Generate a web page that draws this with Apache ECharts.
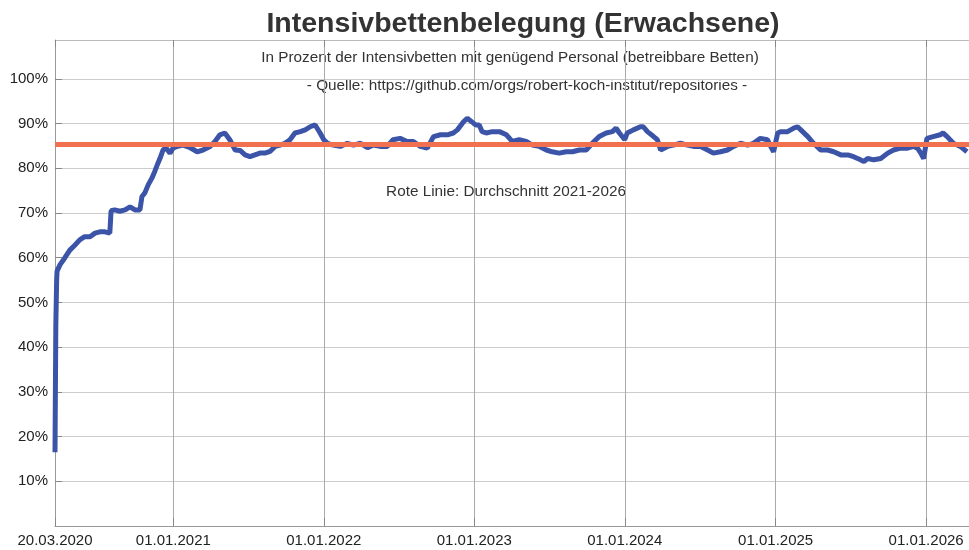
<!DOCTYPE html>
<html>
<head>
<meta charset="utf-8">
<title>Intensivbettenbelegung (Erwachsene)</title>
<script src="https://cdn.jsdelivr.net/npm/echarts@6/dist/echarts.min.js"></script>
<style>
  html, body { margin: 0; padding: 0; background: #fff; }
  #chart { width: 969px; height: 550px; }
</style>
</head>
<body>
<div id="chart"></div>
<script>
// Datum der Messpunkte
const dates = [
  '2020-03-20', '2020-03-22', '2020-03-24', '2020-03-25', '2020-04-01', '2020-04-13', '2020-04-25',
  '2020-05-07', '2020-05-19', '2020-05-31', '2020-06-13', '2020-06-25', '2020-07-07', '2020-07-19',
  '2020-07-31', '2020-08-03', '2020-08-12', '2020-08-24', '2020-09-06', '2020-09-18', '2020-09-30',
  '2020-10-12', '2020-10-17', '2020-10-24', '2020-11-01', '2020-11-10', '2020-11-17', '2020-11-25',
  '2020-11-30', '2020-12-07', '2020-12-14', '2020-12-24',
  '2021-01-01', '2021-01-11', '2021-01-25', '2021-02-11', '2021-02-28', '2021-03-14', '2021-03-31',
  '2021-04-12', '2021-04-24', '2021-05-06', '2021-05-18', '2021-05-31', '2021-06-12', '2021-06-24',
  '2021-07-06', '2021-07-18', '2021-07-30', '2021-08-11', '2021-08-24', '2021-09-05', '2021-09-17',
  '2021-09-29', '2021-10-11', '2021-10-23', '2021-11-05', '2021-11-17', '2021-11-29', '2021-12-11',
  '2021-12-23',
  '2022-01-01', '2022-01-10', '2022-01-24', '2022-02-10', '2022-02-27', '2022-03-14', '2022-03-31',
  '2022-04-17', '2022-05-01', '2022-05-18', '2022-06-04', '2022-06-18', '2022-07-05', '2022-07-22',
  '2022-08-06', '2022-08-23', '2022-09-09', '2022-09-24', '2022-10-11', '2022-10-28', '2022-11-11',
  '2022-11-21', '2022-12-06', '2022-12-15', '2022-12-30',
  '2023-01-05', '2023-01-13', '2023-01-20', '2023-01-30', '2023-02-14', '2023-03-03', '2023-03-20',
  '2023-04-03', '2023-04-20', '2023-05-07', '2023-05-22', '2023-06-08', '2023-06-25', '2023-07-09',
  '2023-07-26', '2023-08-12', '2023-08-27', '2023-09-13', '2023-09-30', '2023-10-14', '2023-10-31',
  '2023-11-17', '2023-12-02', '2023-12-11', '2023-12-19',
  '2024-01-01', '2024-01-07', '2024-01-22', '2024-02-08', '2024-02-15', '2024-02-25', '2024-03-11',
  '2024-03-20', '2024-03-28', '2024-04-14', '2024-04-28', '2024-05-15', '2024-06-01', '2024-06-16',
  '2024-07-03', '2024-07-20', '2024-08-03', '2024-08-20', '2024-09-06', '2024-09-21', '2024-10-08',
  '2024-10-25', '2024-11-08', '2024-11-25', '2024-12-12', '2024-12-20', '2024-12-27',
  '2025-01-06', '2025-01-13', '2025-01-30', '2025-02-14', '2025-02-23', '2025-03-03', '2025-03-20',
  '2025-04-03', '2025-04-20', '2025-05-07', '2025-05-22', '2025-06-08', '2025-06-25', '2025-07-09',
  '2025-07-26', '2025-08-03', '2025-08-12', '2025-08-27', '2025-09-13', '2025-09-30', '2025-10-14',
  '2025-10-31', '2025-11-17', '2025-12-02', '2025-12-11', '2025-12-19', '2025-12-26',
  '2026-01-03', '2026-01-18', '2026-02-04', '2026-02-11', '2026-02-21', '2026-03-08', '2026-03-25',
  '2026-04-10'
]
// Belegung in Prozent
const occupancy = [
  16.5, 45, 55, 57, 58.4, 60, 61.7,
  62.8, 64, 64.7, 64.7, 65.5, 65.8, 65.8,
  65.5, 70.5, 70.7, 70.4, 70.7, 71.4, 70.7,
  70.7, 73.7, 74.5, 76.3, 77.8, 79.3, 81.2,
  82.3, 84.1, 84.6, 83.4,
  84.6, 84.9, 85.2, 84.6, 83.7, 84.1, 84.9,
  86, 87.5, 87.9, 86.4, 84.1, 84, 83,
  82.6, 83, 83.4, 83.4, 83.8, 84.9, 85.2,
  85.6, 86.4, 87.9, 88.2, 88.6, 89.3, 89.7,
  87.9,
  86.4, 85.6, 85.2, 84.9, 85.6, 85.2, 85.6,
  84.6, 85.2, 84.9, 84.9, 86.4, 86.7, 86,
  86, 84.9, 84.5, 87.1, 87.5, 87.5, 87.9,
  88.6, 90.4, 91.2, 90.1,
  89.7, 89.7, 88.2, 87.9, 88.2, 88.2, 87.5,
  86, 86.4, 86, 85.2, 84.9, 84.1, 83.7,
  83.4, 83.7, 83.7, 84.1, 84.1, 85.6, 87.1,
  87.9, 88.2, 89, 87.9,
  86.4, 87.9, 88.6, 89.3, 89.3, 88.2, 87.1,
  86.4, 84.1, 84.9, 85.2, 85.6, 85.2, 84.9,
  84.9, 84.1, 83.4, 83.7, 84.1, 84.9, 85.6,
  85.2, 85.6, 86.7, 86.4, 84.9, 83.7,
  87.9, 88.2, 88.2, 89, 89.3, 88.6, 87.1,
  85.6, 84.1, 84.1, 83.7, 83, 83, 82.6,
  81.9, 81.5, 82.2, 81.9, 82.2, 83.4, 84.1,
  84.5, 84.5, 84.9, 84.5, 83.4, 82.2,
  86.7, 87.1, 87.5, 87.9, 87.1, 85.6, 84.9,
  83.7
]
// Durchschnitt 2021-2026 (rote Linie)
const average = 85.4
// Beschriftete Zeitpunkte der x-Achse
const xTickDates = ['2020-03-20', '2021-01-01', '2022-01-01', '2023-01-01', '2024-01-01', '2025-01-01', '2026-01-01']
// y-Achse in Prozent
const yTicks = [10, 20, 30, 40, 50, 60, 70, 80, 90, 100]

const toTime = (s) => {
  const p = s.split('-').map(Number)
  return Date.UTC(p[0], p[1] - 1, p[2])
}
const pad = (n) => (n < 10 ? '0' + n : '' + n)
const fmtDate = (v) => {
  const d = new Date(v)
  return pad(d.getUTCDate()) + '.' + pad(d.getUTCMonth() + 1) + '.' + d.getUTCFullYear()
}

const xTickValues = xTickDates.map(toTime)
const seriesData = dates.map((d, i) => [toTime(d), occupancy[i]])
const xMin = toTime('2020-03-20')
const xMax = toTime('2026-04-15')
const FONT = 'Liberation Sans, Arial, sans-serif'
const TEXT = '#333'

const chart = echarts.init(document.getElementById('chart'), null, { renderer: 'canvas' })

const option = {
  animation: false,
  backgroundColor: '#fff',
  grid: { left: 55, right: 0, top: 40, bottom: 24 },
  title: {
    text: 'Intensivbettenbelegung (Erwachsene)',
    left: 518,
    textAlign: 'center',
    top: 5,
    textStyle: { fontFamily: FONT, fontSize: 28.5, fontWeight: 'bold', color: '#333' }
  },
  graphic: [
    {
      type: 'text', x: 510, y: 58,
      style: { text: 'In Prozent der Intensivbetten mit genügend Personal (betreibbare Betten)', font: '15.3px ' + FONT, fill: TEXT, align: 'center', verticalAlign: 'middle' }
    },
    {
      type: 'text', x: 527, y: 86,
      style: { text: '- Quelle: https://github.com/orgs/robert-koch-institut/repositories -', font: '15.3px ' + FONT, fill: TEXT, align: 'center', verticalAlign: 'middle' }
    },
    {
      type: 'text', x: 506, y: 192,
      style: { text: 'Rote Linie: Durchschnitt 2021-2026', font: '15.3px ' + FONT, fill: TEXT, align: 'center', verticalAlign: 'middle' }
    }
  ],
  xAxis: [
    {
      type: 'value',
      position: 'bottom',
      min: xMin,
      max: xMax,
      axisLine: { show: true, lineStyle: { color: '#999', width: 1 } },
      axisTick: { show: true, inside: true, length: 8, customValues: xTickValues, lineStyle: { color: '#888' } },
      axisLabel: {
        customValues: xTickValues,
        formatter: (v) => fmtDate(v),
        color: '#222',
        fontFamily: FONT,
        fontSize: 15,
        margin: 7,
        hideOverlap: false
      },
      splitLine: { show: true, lineStyle: { color: '#aaa', width: 1 } }
    },
    {
      type: 'value',
      position: 'top',
      min: xMin,
      max: xMax,
      axisLine: { show: true, lineStyle: { color: '#bbb', width: 1 } },
      axisTick: { show: true, inside: true, length: 7, customValues: xTickValues, lineStyle: { color: '#888' } },
      axisLabel: { show: false },
      splitLine: { show: false }
    }
  ],
  yAxis: {
    type: 'value',
    min: 0,
    max: 108.7,
    interval: 10,
    axisLine: { show: true, lineStyle: { color: '#999' } },
    axisTick: { show: true, inside: true, length: 7, customValues: yTicks, lineStyle: { color: '#888' } },
    axisLabel: {
      customValues: yTicks,
      formatter: (v) => v + '%',
      color: '#222',
      fontFamily: FONT,
      fontSize: 15,
      margin: 7
    },
    splitLine: { show: true, lineStyle: { color: '#ccc', width: 1 } }
  },
  series: [
    {
      type: 'line',
      data: seriesData,
      showSymbol: false,
      symbol: 'none',
      lineStyle: { color: '#3c54a8', width: 5 },
      markLine: {
        silent: true,
        symbol: 'none',
        label: { show: false },
        lineStyle: { color: '#f07050', width: 5, type: 'solid', opacity: 1 },
        data: [{ yAxis: average }]
      }
    }
  ]
}

chart.setOption(option)
</script>
</body>
</html>
